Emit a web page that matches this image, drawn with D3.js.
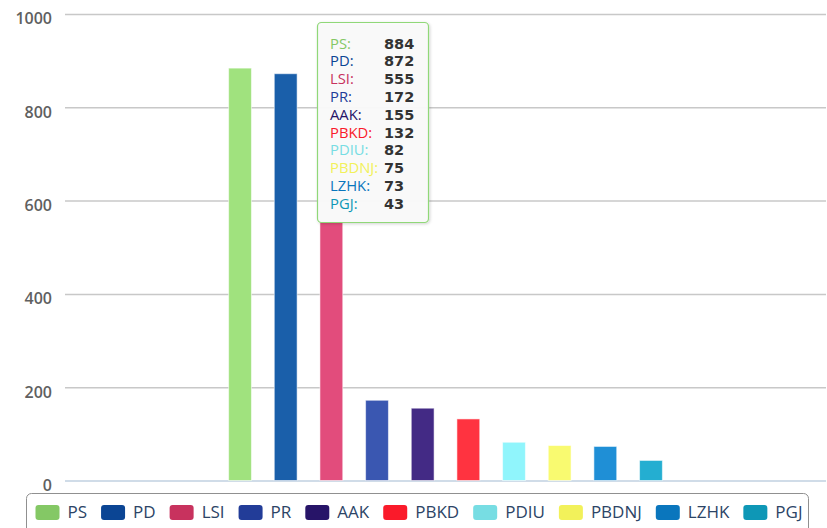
<!DOCTYPE html>
<html lang="en">
<head>
    <meta charset="UTF-8">
    <title>Votes by party</title>
    <script src="https://cdnjs.cloudflare.com/ajax/libs/d3/7.8.5/d3.min.js"></script>
    <style>
        body { margin: 0; background: #fff; font-family: "Open Sans", Arial, sans-serif; }
        svg { display: block; }
    </style>
</head>
<body>
    <div id="chart"></div>
    <script>
    const parties = ["PS", "PD", "LSI", "PR", "AAK", "PBKD", "PDIU", "PBDNJ", "LZHK", "PGJ"];
    const values = [884, 872, 555, 172, 155, 132, 82, 75, 73, 43];
    const legendColors = ["#84c865", "#0b4594", "#c8325e", "#223c98", "#271468",
                          "#fa1a2a", "#77dde3", "#f2f15a", "#0a76bd", "#0e97b6"];
    const barColors = ["#a0e27e", "#1a5faa", "#e24c7c", "#3a57b1", "#432a85",
                       "#ff3340", "#90f5fc", "#f9fa70", "#1f8fd6", "#24aed1"];
    const yTicks = [0, 200, 400, 600, 800, 1000];

    const W = 827, H = 528;
    const plot = {left: 65, right: 826, top: 14, bottom: 480.5};

    const svg = d3.select("#chart").append("svg")
        .attr("width", W).attr("height", H);

    const y = d3.scaleLinear().domain([0, 1000]).range([plot.bottom, plot.top]);

    // one category, ten series side by side (group padding 0.2 of the plot width)
    const groupPad = (plot.right - plot.left) * 0.2;
    const x = d3.scaleBand()
        .domain(parties)
        .range([plot.left + groupPad, plot.right - groupPad])
        .paddingInner(0.5)
        .paddingOuter(0.25);

    // grid + labels
    const yAxis = svg.append("g")
        .attr("transform", `translate(${plot.left},0)`)
        .call(d3.axisLeft(y).tickValues(yTicks).tickFormat(d3.format("d"))
            .tickSize(-(plot.right - plot.left)).tickPadding(13));
    yAxis.select(".domain").remove();
    yAxis.selectAll(".tick line")
        .attr("stroke", d => d === 0 ? "#c0d0e0" : "#c8c8c8")
        .attr("stroke-width", 1.5);
    yAxis.selectAll(".tick text")
        .attr("fill", "#606060")
        .attr("dy", "0.62em")
        .style("font-family", "'Open Sans', Arial, sans-serif")
        .style("font-weight", "600")
        .style("font-size", "16px");

    // bars
    svg.append("g").selectAll("rect")
        .data(parties)
        .join("rect")
        .attr("x", d => x(d))
        .attr("width", x.bandwidth())
        .attr("y", (d, i) => y(values[i]))
        .attr("height", (d, i) => y(0) - y(values[i]))
        .attr("fill", (d, i) => barColors[i])
        .attr("stroke", "rgba(255,255,255,0.55)")
        .attr("stroke-width", 1);

    // legend
    const legend = svg.append("g");
    legend.append("rect")
        .attr("x", 26.5).attr("y", 493.5)
        .attr("width", 782).attr("height", 50)
        .attr("rx", 5)
        .attr("fill", "none")
        .attr("stroke", "#909090");

    const items = legend.selectAll("g.item")
        .data(parties)
        .join("g")
        .attr("class", "item");
    items.append("rect")
        .attr("y", 505)
        .attr("width", 24).attr("height", 15)
        .attr("rx", 3)
        .attr("fill", (d, i) => legendColors[i]);
    items.append("text")
        .attr("x", 32)
        .attr("y", 518)
        .attr("fill", "#2c4466")
        .style("font-size", "17px")
        .text(d => d);

    const widths = items.nodes().map(n => 32 + d3.select(n).select("text").node().getComputedTextLength());
    const gap = 14;
    const total = d3.sum(widths) + gap * (widths.length - 1);
    let cx = 419 - total / 2;
    items.each(function(d, i) {
        d3.select(this).attr("transform", `translate(${cx},0)`);
        cx += widths[i] + gap;
    });

    // tooltip
    const defs = svg.append("defs");
    const f = defs.append("filter").attr("id", "shadow")
        .attr("x", "-10%").attr("y", "-10%").attr("width", "130%").attr("height", "130%");
    f.append("feDropShadow")
        .attr("dx", 1).attr("dy", 1).attr("stdDeviation", 1.5)
        .attr("flood-color", "#000").attr("flood-opacity", 0.18);

    const tip = svg.append("g");
    tip.append("rect")
        .attr("x", 317.5).attr("y", 22.5)
        .attr("width", 111).attr("height", 200)
        .attr("rx", 4)
        .attr("fill", "rgba(250,250,250,0.96)")
        .attr("stroke", "#90d878")
        .attr("stroke-width", 1.2)
        .attr("filter", "url(#shadow)");

    const rows = tip.selectAll("g.row")
        .data(parties)
        .join("g")
        .attr("transform", (d, i) => `translate(0,${48.5 + i * 17.8})`);
    rows.append("text")
        .attr("x", 330)
        .attr("fill", (d, i) => legendColors[i])
        .style("font-size", "14.8px")
        .text(d => d + ":");
    rows.append("text")
        .attr("x", 384)
        .attr("fill", "#333")
        .style("font-family", "'DejaVu Sans', sans-serif")
        .style("font-size", "14.5px")
        .style("font-weight", "bold")
        .text((d, i) => values[i]);
    </script>
</body>
</html>
